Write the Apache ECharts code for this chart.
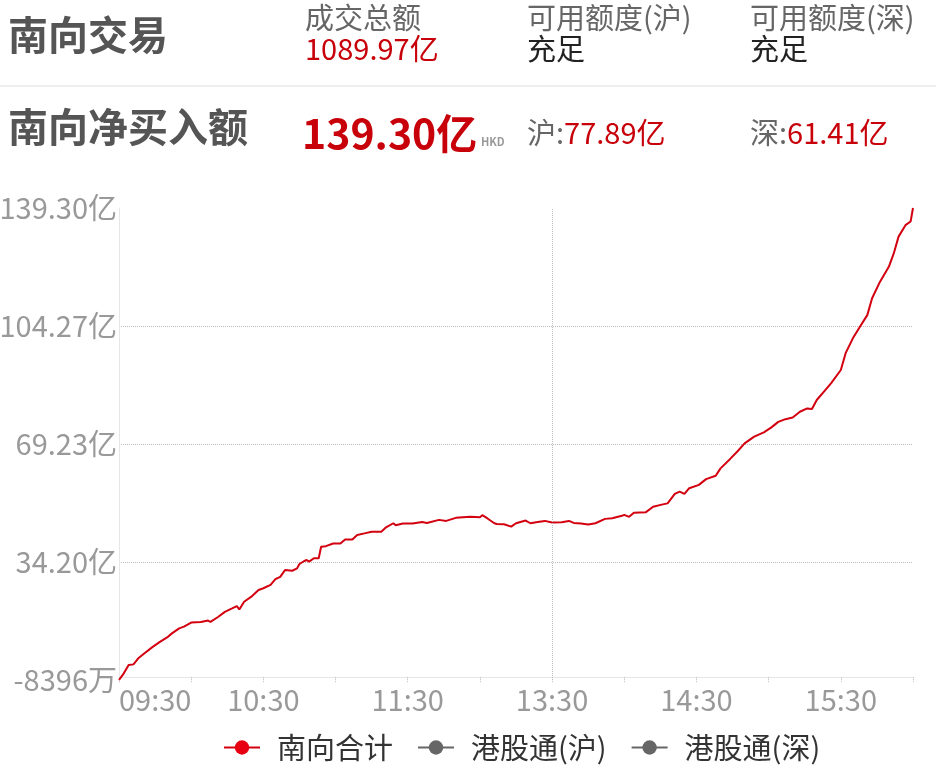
<!DOCTYPE html>
<html>
<head>
<meta charset="utf-8">
<script src="https://cdn.jsdelivr.net/npm/echarts@6/dist/echarts.min.js"></script>
<style>
  html, body { margin: 0; padding: 0; background: #fff; }
  #chart { width: 936px; height: 768px; }
</style>
</head>
<body>
<div id="chart"></div>
<script>
// trading minutes: 09:30-12:00 and 13:00-16:00
const times = [
  "09:30","09:32","09:34","09:36","09:38","09:41","09:44","09:47","09:50","09:52",
  "09:55","09:57","10:00","10:04","10:07","10:08","10:11","10:14","10:17","10:19",
  "10:20","10:22","10:25","10:28","10:30","10:33","10:35","10:37","10:39","10:42",
  "10:44","10:45","10:47","10:48","10:49","10:51","10:53","10:54","10:56","10:59",
  "11:02","11:04","11:07","11:09","11:12","11:15","11:19","11:21","11:24","11:25",
  "11:28","11:32","11:36","11:38","11:43","11:46","11:50","11:56","12:00","13:01",
  "13:03","13:06","13:07","13:10","13:13","13:15","13:19","13:21","13:24","13:27",
  "13:30","13:34","13:37","13:39","13:42","13:45","13:48","13:52","13:55","13:59",
  "14:00","14:02","14:04","14:09","14:12","14:16","14:18","14:21","14:23","14:25",
  "14:27","14:31","14:34","14:38","14:40","14:44","14:47","14:50","14:54","14:58",
  "15:01","15:04","15:07","15:10","15:13","15:16","15:18","15:20","15:23","15:26",
  "15:30","15:32","15:35","15:38","15:41","15:43","15:46","15:50","15:52","15:54",
  "15:57","15:59","16:00"
];
// 南向合计 net buy, 亿
const netBuy = [
  -0.84, 1.15, 3.6, 3.8, 5.6, 7.3, 9.0, 10.5, 11.8, 13.0,
  14.5, 15.0, 16.2, 16.4, 16.8, 16.4, 17.8, 19.4, 20.4, 21.1,
  20.1, 22.4, 23.9, 25.9, 26.4, 27.4, 29.1, 29.8, 31.8, 31.6,
  32.3, 33.6, 34.5, 34.8, 34.3, 35.3, 35.3, 38.7, 38.9, 39.7,
  39.7, 40.9, 40.9, 42.2, 42.7, 43.2, 43.2, 44.5, 45.7, 45.1,
  45.6, 45.6, 46.1, 45.8, 46.7, 46.4, 47.3, 47.6, 47.5, 48.1,
  47.2, 45.7, 45.5, 45.4, 44.7, 45.7, 46.5, 45.7, 46.1, 46.4,
  45.9, 46.0, 46.4, 45.8, 45.6, 45.3, 45.7, 47.0, 47.2, 47.9,
  48.2, 47.6, 48.8, 49.0, 50.6, 51.3, 51.6, 54.4, 55.1, 54.4,
  56.1, 57.1, 58.8, 59.8, 62.0, 64.8, 67.0, 69.4, 71.4, 72.7,
  74.1, 75.8, 76.6, 77.1, 78.8, 79.8, 79.6, 82.3, 84.8, 87.3,
  91.2, 96.2, 100.6, 104.1, 107.5, 112.5, 117.0, 121.9, 125.8, 130.8,
  134.3, 135.3, 139.30
];
const xLabelTimes = ["09:30", "10:30", "11:30", "13:30", "14:30", "15:30"];
const yTickLabels = ["-8396万", "34.20亿", "69.23亿", "104.27亿", "139.30亿"];
const yMin = -0.8396;
const yMax = 139.30;
const legendNames = ["南向合计", "港股通(沪)", "港股通(深)"];

const FONT = '"Noto Sans CJK SC", "Microsoft YaHei", sans-serif';

// minutes since 09:30, skipping the lunch break
function toOffset(t) {
  const [h, m] = t.split(":").map(Number);
  const mins = h * 60 + m;
  if (mins <= 12 * 60) return mins - (9 * 60 + 30);
  return 150 + mins - 13 * 60;
}
function toTime(off) {
  let mins = off <= 150 ? 9 * 60 + 30 + off : 13 * 60 + (off - 150);
  const h = Math.floor(mins / 60), m = mins % 60;
  return String(h).padStart(2, "0") + ":" + String(m).padStart(2, "0");
}

const lineData = times.map((t, i) => [toOffset(t), netBuy[i]]);
const yInterval = (yMax - yMin) / 4;

const chart = echarts.init(document.getElementById("chart"));

const option = {
  animation: false,
  textStyle: { fontFamily: FONT },
  grid: { left: 119, right: 23, top: 208, bottom: 88, containLabel: false, outerBoundsMode: "none" },
  legend: {
    left: 218,
    top: 728,
    itemWidth: 36,
    itemHeight: 18,
    itemGap: 24,
    data: legendNames,
    textStyle: { fontSize: 29, color: "#333", padding: [0, 0, 0, 12], fontFamily: FONT }
  },
  xAxis: {
    type: "value",
    min: 0,
    max: 330,
    interval: 30,
    axisLine: { show: true, lineStyle: { color: "#e6e6e6", width: 1 } },
    axisTick: { show: true, length: 5, lineStyle: { color: "#bbb", type: "dotted" } },
    splitLine: { show: false },
    axisLabel: {
      color: "#999",
      fontSize: 29,
      margin: 5,
      fontFamily: FONT,
      alignMinLabel: "left",
      formatter: function (v) {
        const t = toTime(v);
        return xLabelTimes.indexOf(t) >= 0 ? t : "";
      }
    }
  },
  yAxis: {
    type: "value",
    min: yMin,
    max: yMax,
    interval: yInterval,
    axisLine: { show: true, lineStyle: { color: "#e6e6e6", width: 1 } },
    axisTick: { show: false },
    splitLine: {
      show: true,
      lineStyle: { color: ["transparent", "#bbb", "#bbb", "#bbb", "transparent"], type: "dotted", width: 1 }
    },
    axisLabel: {
      color: "#999",
      fontSize: 29,
      margin: 2,
      fontFamily: FONT,
      formatter: function (v) {
        return yTickLabels[Math.round((v - yMin) / yInterval)];
      }
    }
  },
  series: [
    {
      name: legendNames[0],
      type: "line",
      data: lineData,
      symbol: "circle",
      showSymbol: false,
      color: "#e60012",
      lineStyle: { color: "#d3000f", width: 2 },
      markLine: {
        silent: true,
        symbol: "none",
        label: { show: false },
        lineStyle: { color: "#bbb", type: "dotted", width: 1 },
        data: [{ xAxis: toOffset("13:30") }]
      }
    },
    { name: legendNames[1], type: "line", data: [], symbol: "circle", color: "#666" },
    { name: legendNames[2], type: "line", data: [], symbol: "circle", color: "#666" }
  ],
  graphic: [
    { type: "text", left: 8, top: 15, style: { text: "南向交易", fontSize: 40, fontWeight: "bold", fill: "#555", fontFamily: FONT } },
    { type: "text", left: 305, top: 3, style: { text: "成交总额", fontSize: 29, fill: "#666", fontFamily: FONT } },
    { type: "text", left: 305, top: 34, style: { text: "1089.97亿", fontSize: 29, fill: "#c8000a", fontFamily: FONT } },
    { type: "text", left: 527, top: 3, style: { text: "可用额度(沪)", fontSize: 29, fill: "#666", fontFamily: FONT } },
    { type: "text", left: 527, top: 34, style: { text: "充足", fontSize: 29, fill: "#222", fontFamily: FONT } },
    { type: "text", left: 750, top: 3, style: { text: "可用额度(深)", fontSize: 29, fill: "#666", fontFamily: FONT } },
    { type: "text", left: 750, top: 34, style: { text: "充足", fontSize: 29, fill: "#222", fontFamily: FONT } },
    { type: "line", shape: { x1: 0, y1: 86, x2: 936, y2: 86 }, style: { stroke: "#eeeeee", lineWidth: 2 } },
    { type: "text", left: 8, top: 107, style: { text: "南向净买入额", fontSize: 40, fontWeight: "bold", fill: "#555", fontFamily: FONT } },
    { type: "text", left: 302, top: 113, style: { text: "139.30亿", fontSize: 41, fontWeight: "bold", fill: "#c8000a", fontFamily: FONT } },
    { type: "text", left: 481, top: 136, style: { text: "HKD", fontSize: 11, fontWeight: "bold", fill: "#999", fontFamily: FONT } },
    {
      type: "text", left: 527, top: 118,
      style: {
        text: "{a|沪:}{b|77.89亿}",
        rich: {
          a: { fontSize: 29, fill: "#666", fontFamily: FONT },
          b: { fontSize: 29, fill: "#c8000a", fontFamily: FONT }
        }
      }
    },
    {
      type: "text", left: 750, top: 118,
      style: {
        text: "{a|深:}{b|61.41亿}",
        rich: {
          a: { fontSize: 29, fill: "#666", fontFamily: FONT },
          b: { fontSize: 29, fill: "#c8000a", fontFamily: FONT }
        }
      }
    }
  ]
};

chart.setOption(option);
</script>
</body>
</html>
